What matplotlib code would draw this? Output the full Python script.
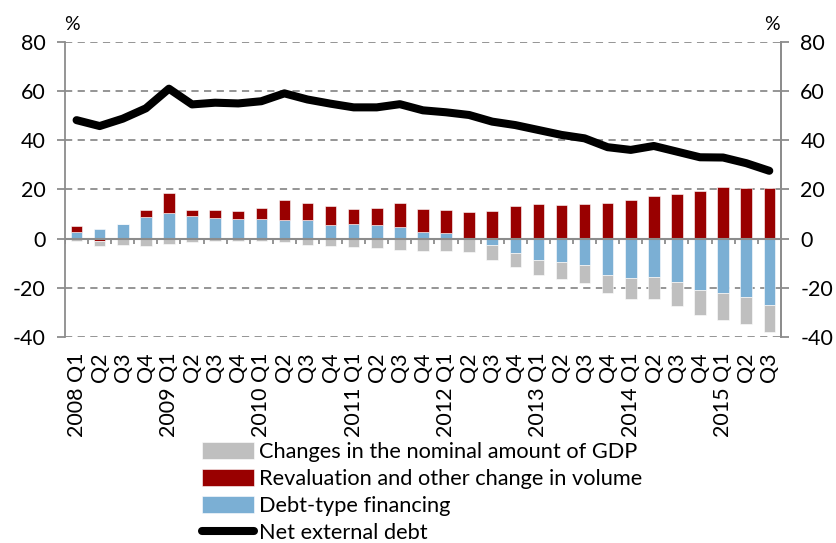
import numpy as np
import matplotlib
matplotlib.use("Agg")
import matplotlib.pyplot as plt

plt.rcParams['font.family'] = ['Lato', 'DejaVu Sans']
plt.rcParams['axes.unicode_minus'] = False

# =====================================================
# Data (percent of GDP)
# =====================================================

quarters = ["2008 Q1", "Q2", "Q3", "Q4",
            "2009 Q1", "Q2", "Q3", "Q4",
            "2010 Q1", "Q2", "Q3", "Q4",
            "2011 Q1", "Q2", "Q3", "Q4",
            "2012 Q1", "Q2", "Q3", "Q4",
            "2013 Q1", "Q2", "Q3", "Q4",
            "2014 Q1", "Q2", "Q3", "Q4",
            "2015 Q1", "Q2", "Q3"]

debt_financing = [2.9, 3.9, 6.1, 8.8, 10.5, 9.1, 8.4, 7.9, 7.9, 7.5, 7.5,
                  5.7, 6.1, 5.7, 4.9, 2.7, 2.3, 0.0, -2.4, -5.9, -8.6, -9.5,
                  -10.9, -14.6, -15.9, -15.5, -17.7, -20.8, -22.2, -23.7, -26.9]

revaluation = [2.1, -1.0, 0.0, 2.8, 7.9, 2.5, 3.3, 3.5, 4.5, 8.4, 6.9,
               7.4, 5.9, 6.7, 9.4, 9.5, 9.4, 10.9, 11.3, 13.1, 13.9, 13.5,
               14.0, 14.7, 15.6, 17.4, 18.0, 19.5, 21.1, 20.7, 20.8]

gdp_change = [-1.1, -2.1, -2.4, -2.9, -2.2, -1.5, -1.1, -1.1, -1.1, -1.5, -2.4,
              -2.9, -3.4, -3.8, -4.5, -4.9, -5.2, -5.6, -6.2, -5.8, -6.0, -6.8,
              -7.2, -7.7, -8.5, -9.0, -9.5, -10.1, -10.7, -10.9, -11.2]

net_external_debt = [48.2, 45.8, 48.8, 53.0, 61.0, 54.6, 55.3, 55.0, 55.9, 59.1, 56.6,
                     54.9, 53.4, 53.4, 54.7, 52.2, 51.4, 50.3, 47.6, 46.2, 44.2, 42.2,
                     40.8, 37.2, 36.1, 37.7, 35.4, 33.1, 33.0, 30.7, 27.6]

series = [
    ("Debt-type financing", debt_financing, "#7BAFD4"),
    ("Revaluation and other change in volume", revaluation, "#990000"),
    ("Changes in the nominal amount of GDP", gdp_change, "#BFBFBF"),
]

# =====================================================
# Figure
# =====================================================

fig = plt.figure(figsize=(8.36, 5.43), dpi=100)
ax = fig.add_axes([0.0778, 0.3794, 0.8562, 0.5433])

x = np.arange(len(quarters))
pos_base = np.zeros(len(x))
neg_base = np.zeros(len(x))
handles = {}

# stacked bars, positives and negatives stacked separately
for name, vals, color in series:
    vals = np.array(vals)
    bottom = np.where(vals >= 0, pos_base, neg_base)
    bars = ax.bar(x, vals, width=0.5, bottom=bottom, color=color,
                  edgecolor="white", linewidth=0.4, zorder=3, label=name)
    handles[name] = bars
    pos_base = pos_base + np.where(vals >= 0, vals, 0)
    neg_base = neg_base + np.where(vals < 0, vals, 0)

line, = ax.plot(x, net_external_debt, color="black", linewidth=5.8,
                solid_capstyle="round", solid_joinstyle="round", zorder=4,
                label="Net external debt")

ax.set_xlim(-0.5, len(x) - 0.5)
ax.set_ylim(-40, 80)
yt = np.arange(-40, 81, 20)
ax.set_yticks(yt)

# dashed grid, solid zero line
for v in yt:
    if v != 0:
        ax.axhline(v, color="#8C8C8C", linestyle=(0, (4, 3)), linewidth=1.3, zorder=1)
ax.axhline(0, color="#8C8C8C", linewidth=1.5, zorder=3.5)

# category tick marks below zero line
ax.vlines(np.arange(len(x) + 1) - 0.5, -2.2, 0, color="#8C8C8C", linewidth=1.3, zorder=3.5)

for s in ["top", "bottom"]:
    ax.spines[s].set_visible(False)
for s in ["left", "right"]:
    ax.spines[s].set_color("#8C8C8C")
    ax.spines[s].set_linewidth(1.3)

ax.set_xticks(x)
ax.set_xticklabels(quarters, rotation=90, fontsize=15.5, va="top")
ax.tick_params(axis="x", length=0, pad=11)
ax.tick_params(axis="y", direction="out", length=6, width=1.3, color="#8C8C8C",
               labelsize=15.5, pad=8)

ax2 = ax.twinx()
ax2.set_ylim(ax.get_ylim())
ax2.set_yticks(yt)
for s in ["top", "bottom", "left"]:
    ax2.spines[s].set_visible(False)
ax2.spines["right"].set_color("#8C8C8C")
ax2.spines["right"].set_linewidth(1.3)
ax2.tick_params(axis="y", direction="out", length=6, width=1.3, color="#8C8C8C",
                labelsize=15.5, pad=8)

fig.text(0.086, 0.955, "%", fontsize=14, ha="center", va="center")
fig.text(0.923, 0.955, "%", fontsize=14, ha="center", va="center")

order = ["Changes in the nominal amount of GDP",
         "Revaluation and other change in volume",
         "Debt-type financing"]
leg = fig.legend([handles[n] for n in order] + [line], order + ["Net external debt"],
                 loc="upper left", bbox_to_anchor=(0.2416, 0.186), frameon=False,
                 fontsize=15.7, handlelength=2.4, handleheight=0.8,
                 labelspacing=0.32, handletextpad=0.22, borderaxespad=0,
                 borderpad=0)

plt.savefig("out.png", dpi=100)
plt.close()
